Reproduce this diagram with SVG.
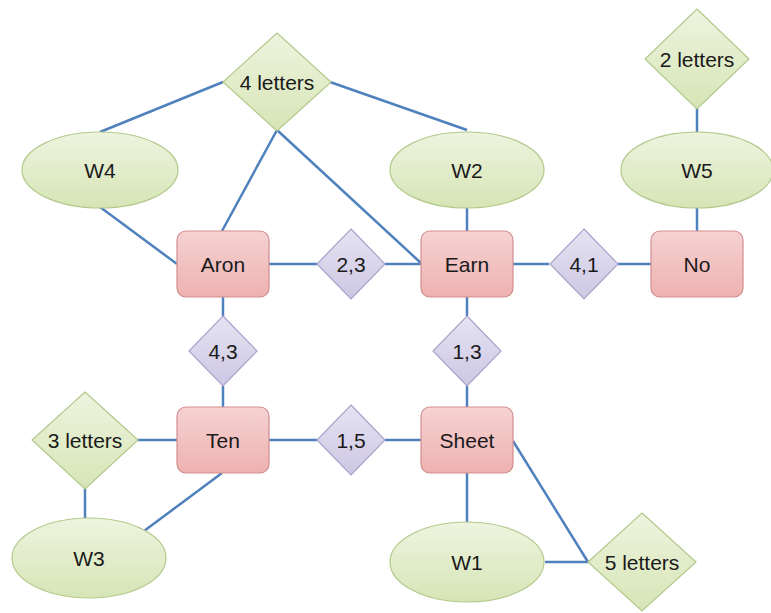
<svg xmlns="http://www.w3.org/2000/svg" width="771" height="613" viewBox="0 0 771 613">
  <defs>
    <linearGradient id="gGreen" x1="0" y1="0" x2="0" y2="1">
      <stop offset="0" stop-color="#eef4df"/>
      <stop offset="1" stop-color="#d6e5b6"/>
    </linearGradient>
    <linearGradient id="gPink" x1="0" y1="0" x2="0" y2="1">
      <stop offset="0" stop-color="#f6d2d2"/>
      <stop offset="1" stop-color="#eeb1b1"/>
    </linearGradient>
    <linearGradient id="gPurple" x1="0" y1="0" x2="0" y2="1">
      <stop offset="0" stop-color="#e6e3f2"/>
      <stop offset="1" stop-color="#cdc7e3"/>
    </linearGradient>
  </defs>
  <style>
    .word { fill: url(#gGreen); stroke: #b3c98c; stroke-width: 1.2; }
    .len { fill: url(#gGreen); stroke: #b3c98c; stroke-width: 1.2; }
    .ent { fill: url(#gPink); stroke: #d28e8e; stroke-width: 1.2; }
    .rel { fill: url(#gPurple); stroke: #aaa2cb; stroke-width: 1.2; }
    .lbl { font-family: "Liberation Sans", Arial, sans-serif; font-size: 21px; fill: #1a1a1a; text-anchor: middle; dominant-baseline: central; }
    .edge { stroke: #4f81bd; stroke-width: 2.5; fill: none; }
  </style>

  <g id="connectors">
    <line class="edge" x1="223" y1="82" x2="100" y2="132"/>
    <line class="edge" x1="330" y1="82" x2="467" y2="130"/>
    <line class="edge" x1="277" y1="130" x2="222" y2="231"/>
    <line class="edge" x1="277" y1="130" x2="422" y2="264"/>
    <line class="edge" x1="100" y1="207" x2="177" y2="264"/>
    <line class="edge" x1="269" y1="264" x2="317" y2="264"/>
    <line class="edge" x1="385" y1="264" x2="422" y2="264"/>
    <line class="edge" x1="467" y1="208" x2="467" y2="231"/>
    <line class="edge" x1="513" y1="264" x2="549" y2="264"/>
    <line class="edge" x1="618" y1="264" x2="651" y2="264"/>
    <line class="edge" x1="697" y1="208" x2="697" y2="231"/>
    <line class="edge" x1="697" y1="108" x2="697" y2="132"/>
    <line class="edge" x1="223" y1="297" x2="223" y2="316"/>
    <line class="edge" x1="223" y1="386" x2="223" y2="407"/>
    <line class="edge" x1="467" y1="297" x2="467" y2="316"/>
    <line class="edge" x1="467" y1="386" x2="467" y2="407"/>
    <line class="edge" x1="138" y1="440" x2="177" y2="440"/>
    <line class="edge" x1="85" y1="488" x2="85" y2="518"/>
    <line class="edge" x1="222" y1="473" x2="140" y2="534"/>
    <line class="edge" x1="269" y1="440" x2="317" y2="440"/>
    <line class="edge" x1="385" y1="440" x2="421" y2="440"/>
    <line class="edge" x1="467" y1="473" x2="467" y2="523"/>
    <line class="edge" x1="513" y1="441" x2="588" y2="562"/>
    <line class="edge" x1="545" y1="562" x2="588" y2="562"/>
  </g>

  <!-- letter-count diamonds -->
  <g id="len4">
    <polygon class="len" points="277,33 331,82 277,131 223,82"/>
    <text class="lbl" x="277" y="82">4 letters</text>
  </g>
  <g id="len2">
    <polygon class="len" points="697,9 749,59 697,109 645,59"/>
    <text class="lbl" x="697" y="59">2 letters</text>
  </g>
  <g id="len3">
    <polygon class="len" points="85,392 138,440 85,489 32,440"/>
    <text class="lbl" x="85" y="440">3 letters</text>
  </g>
  <g id="len5">
    <polygon class="len" points="642,513 696,562 642,611 588,562"/>
    <text class="lbl" x="642" y="562">5 letters</text>
  </g>

  <!-- word slots -->
  <g id="w4">
    <ellipse class="word" cx="100" cy="170" rx="78" ry="38"/>
    <text class="lbl" x="100" y="170">W4</text>
  </g>
  <g id="w2">
    <ellipse class="word" cx="467" cy="170" rx="77" ry="38"/>
    <text class="lbl" x="467" y="170">W2</text>
  </g>
  <g id="w5">
    <ellipse class="word" cx="697" cy="170" rx="76" ry="38"/>
    <text class="lbl" x="697" y="170">W5</text>
  </g>
  <g id="w3">
    <ellipse class="word" cx="89" cy="558" rx="77" ry="40"/>
    <text class="lbl" x="89" y="558">W3</text>
  </g>
  <g id="w1">
    <ellipse class="word" cx="467" cy="562" rx="77" ry="40"/>
    <text class="lbl" x="467" y="562">W1</text>
  </g>

  <!-- words -->
  <g id="aron">
    <rect class="ent" x="177" y="231" width="92" height="66" rx="9"/>
    <text class="lbl" x="223" y="264">Aron</text>
  </g>
  <g id="earn">
    <rect class="ent" x="421" y="231" width="92" height="66" rx="9"/>
    <text class="lbl" x="467" y="264">Earn</text>
  </g>
  <g id="no">
    <rect class="ent" x="651" y="231" width="92" height="66" rx="9"/>
    <text class="lbl" x="697" y="264">No</text>
  </g>
  <g id="ten">
    <rect class="ent" x="177" y="407" width="92" height="66" rx="9"/>
    <text class="lbl" x="223" y="440">Ten</text>
  </g>
  <g id="sheet">
    <rect class="ent" x="421" y="407" width="92" height="66" rx="9"/>
    <text class="lbl" x="467" y="440">Sheet</text>
  </g>

  <!-- shared-letter links -->
  <g id="r23">
    <polygon class="rel" points="351,229 385,264 351,299 317,264"/>
    <text class="lbl" x="351" y="264">2,3</text>
  </g>
  <g id="r41">
    <polygon class="rel" points="584,229 618,264 584,299 550,264"/>
    <text class="lbl" x="584" y="264">4,1</text>
  </g>
  <g id="r43">
    <polygon class="rel" points="223,316 257,351 223,386 189,351"/>
    <text class="lbl" x="223" y="351">4,3</text>
  </g>
  <g id="r13">
    <polygon class="rel" points="467,316 501,351 467,386 433,351"/>
    <text class="lbl" x="467" y="351">1,3</text>
  </g>
  <g id="r15">
    <polygon class="rel" points="351,405 385,440 351,475 317,440"/>
    <text class="lbl" x="351" y="440">1,5</text>
  </g>
</svg>
